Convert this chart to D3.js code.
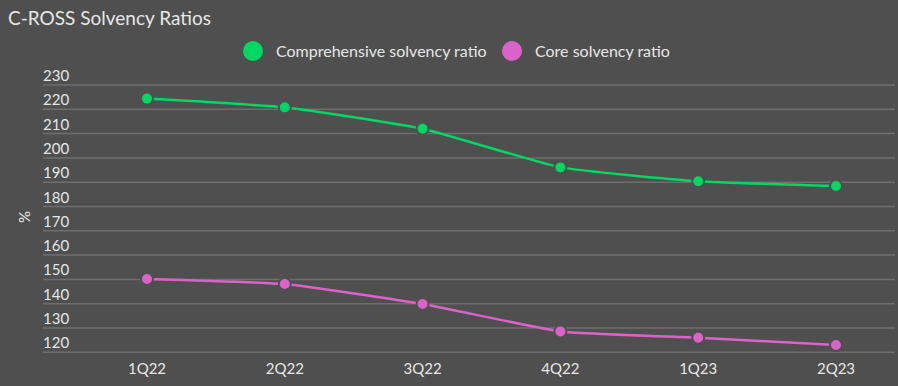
<!DOCTYPE html>
<html>
<head>
<meta charset="utf-8">
<script src="https://cdn.jsdelivr.net/npm/d3@7"></script>
<style>
  html, body { margin: 0; padding: 0; background: #4f4f4f; }
  svg { display: block; }
  text { font-family: Lato, "Open Sans", sans-serif; }
</style>
</head>
<body>
<svg id="chart" width="898" height="386"></svg>
<script>
const categories = ["1Q22", "2Q22", "3Q22", "4Q22", "1Q23", "2Q23"];
const comprehensive = [224.4, 220.8, 212.0, 196.1, 190.4, 188.4];
const core = [150.2, 148.1, 139.9, 128.6, 126.0, 123.0];
const yTicks = [120, 130, 140, 150, 160, 170, 180, 190, 200, 210, 220, 230];
const seriesNames = ["Comprehensive solvency ratio", "Core solvency ratio"];
const seriesColors = ["#00d862", "#da62c8"];

const W = 898, H = 386;
const bg = "#4f4f4f";
const textColor = "#e6e6e6";
const svg = d3.select("#chart");
svg.append("rect").attr("width", W).attr("height", H).attr("fill", bg);

const x = d3.scalePoint().domain(categories).range([147, 836]);
const y = d3.scaleLinear().domain([120, 230]).range([352.3, 85]);

// title
svg.append("text").attr("x", 8).attr("y", 25)
  .attr("fill", textColor).attr("font-size", 19).text("C-ROSS Solvency Ratios");

// grid + y labels
const grid = svg.append("g");
yTicks.forEach(t => {
  grid.append("line").attr("x1", 43).attr("x2", 895)
    .attr("y1", y(t)).attr("y2", y(t))
    .attr("stroke", "#6e6e6e").attr("stroke-width", 1.5);
  grid.append("text").attr("x", 43).attr("y", y(t) - 4)
    .attr("fill", textColor).attr("font-size", 15).text(t);
});

// y title
svg.append("text").attr("transform", "translate(30,217) rotate(-90)")
  .attr("text-anchor", "middle").attr("fill", textColor).attr("font-size", 15).text("%");

// x labels
categories.forEach(c => {
  svg.append("text").attr("x", x(c)).attr("y", 374)
    .attr("text-anchor", "middle").attr("fill", textColor).attr("font-size", 15).text(c);
});

// lines
const series = [comprehensive, core];
const line = d3.line().x((d, i) => x(categories[i])).y(d => y(d)).curve(d3.curveCardinal.tension(0.6));
series.forEach((vals, si) => {
  svg.append("path").datum(vals).attr("d", line)
    .attr("fill", "none").attr("stroke", seriesColors[si]).attr("stroke-width", 2.5);
  svg.append("g").selectAll("circle").data(vals).join("circle")
    .attr("cx", (d, i) => x(categories[i])).attr("cy", d => y(d)).attr("r", 6)
    .attr("fill", seriesColors[si]).attr("stroke", bg).attr("stroke-width", 2);
});

// legend
const legendItems = [{cx: 253, tx: 276}, {cx: 512, tx: 535}];
legendItems.forEach((li, i) => {
  svg.append("circle").attr("cx", li.cx).attr("cy", 51).attr("r", 10).attr("fill", seriesColors[i]);
  svg.append("text").attr("x", li.tx).attr("y", 57).attr("fill", textColor)
    .attr("font-size", 16).text(seriesNames[i]);
});
</script>
</body>
</html>
